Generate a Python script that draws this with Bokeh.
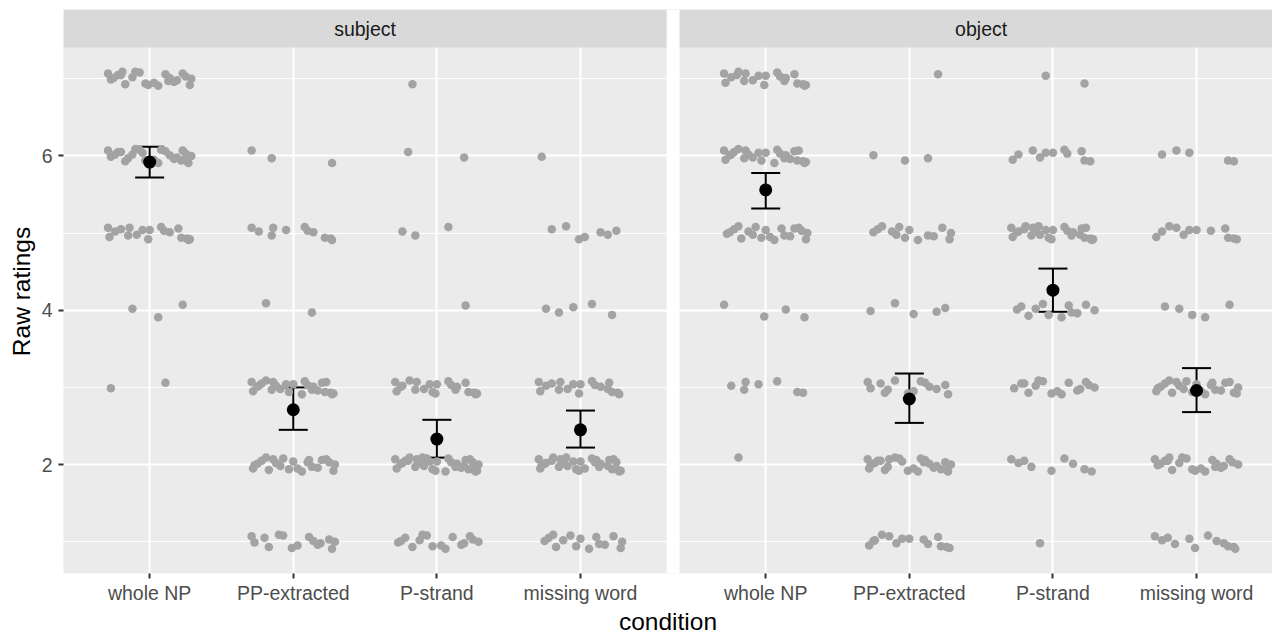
from bokeh.plotting import figure
from bokeh.models import (ColumnDataSource, FixedTicker, BoxAnnotation, Label,
                          Whisker, TeeHead, Range1d)
from bokeh.embed import file_html
from bokeh.resources import INLINE

# ---------------- data ----------------
facets = ["subject", "object"]
conditions = ["whole NP", "PP-extracted", "P-strand", "missing word"]
ratings = [1, 2, 3, 4, 5, 6, 7]

# number of raw ratings at each rating level 1..7, per condition
subject_counts = [
    [0, 0, 2, 3, 18, 26, 23],    # whole NP
    [15, 23, 25, 2, 11, 3, 0],   # PP-extracted
    [16, 32, 21, 1, 3, 2, 1],    # P-strand
    [15, 30, 18, 5, 7, 1, 0],    # missing word
]
object_counts = [
    [0, 1, 7, 4, 20, 25, 20],    # whole NP
    [14, 26, 14, 5, 14, 3, 1],   # PP-extracted
    [1, 9, 16, 12, 26, 11, 2],   # P-strand
    [12, 22, 23, 5, 12, 5, 0],   # missing word
]

subject_mean = [5.92, 2.71, 2.33, 2.45]
subject_lo = [5.72, 2.45, 2.09, 2.22]
subject_hi = [6.12, 3.00, 2.58, 2.70]

object_mean = [5.56, 2.85, 4.26, 2.96]
object_lo = [5.32, 2.54, 3.98, 2.68]
object_hi = [5.78, 3.18, 4.54, 3.25]

# hand-made jitter pattern (category units / rating units)
JIT_DX = [-0.05, 0.22, -0.24, 0.08, -0.15, 0.27, -0.29, 0.14, -0.01, -0.20,
          0.19, -0.10, 0.25, 0.03, -0.27, 0.11, -0.17, 0.29, -0.07, 0.17,
          -0.22, 0.06, -0.12, 0.23, -0.03, -0.25, 0.13, -0.19, 0.28, 0.00,
          -0.09, 0.20, -0.28, 0.10, -0.14, 0.26]
JIT_DY = [0.04, -0.06, 0.02, 0.08, -0.03, -0.09, 0.07, 0.01, -0.08, 0.05,
          -0.02, 0.09, 0.03, -0.05, -0.01, 0.06, -0.07, 0.00, 0.08, -0.04,
          0.05, -0.09, 0.02, 0.07, -0.06, 0.01, -0.03, 0.09, -0.08, 0.04,
          -0.02, 0.06, -0.05, 0.03, 0.07, -0.07]

# ---------------- layout constants ----------------
PANEL_OFFSET = [0.0, 4.29]     # second facet shifted right (includes panel gap)
PANEL_LEFT = [0.4, 4.69]
PANEL_RIGHT = [4.6, 8.89]
Y_PANEL_TOP = 7.404
Y_STRIP_TOP = 7.898
FONT = "Liberation Sans"

# ---------------- build point sources ----------------
px, py = [], []
for pi, counts in enumerate([subject_counts, object_counts]):
    for ci, cnt in enumerate(counts):
        for ri, n in enumerate(cnt):
            start = (pi * 4 + ci) * 5 + ri * 7
            for k in range(n):
                j = (start + k) % len(JIT_DX)
                px.append(PANEL_OFFSET[pi] + ci + 1 + JIT_DX[j])
                py.append(ratings[ri] + JIT_DY[j])
pts = ColumnDataSource(dict(x=px, y=py))

mx, my, mlo, mhi = [], [], [], []
for pi, (m, lo, hi) in enumerate([(subject_mean, subject_lo, subject_hi),
                                  (object_mean, object_lo, object_hi)]):
    for ci in range(len(conditions)):
        mx.append(PANEL_OFFSET[pi] + ci + 1)
        my.append(m[ci])
        mlo.append(lo[ci])
        mhi.append(hi[ci])
means = ColumnDataSource(dict(x=mx, y=my, lo=mlo, hi=mhi))

tick_pos = [PANEL_OFFSET[pi] + ci + 1 for pi in range(2) for ci in range(len(conditions))]
tick_lab = {PANEL_OFFSET[pi] + ci + 1: conditions[ci] for pi in range(2) for ci in range(len(conditions))}

# ---------------- figure ----------------
p = figure(frame_width=1209, frame_height=564,
           x_range=Range1d(0.4, 8.819), y_range=Range1d(0.588, Y_STRIP_TOP),
           output_backend="svg", toolbar_location=None,
           min_border_left=63, min_border_right=0, min_border_top=9, min_border_bottom=56,
           background_fill_color="#EBEBEB", border_fill_color="white",
           outline_line_color=None)

# grids
p.xgrid.ticker = FixedTicker(ticks=tick_pos)
p.xgrid.grid_line_color = "white"
p.xgrid.grid_line_width = 2
yt = FixedTicker(ticks=[2, 4, 6], minor_ticks=[1, 3, 5, 7])
p.ygrid.ticker = yt
p.ygrid.grid_line_color = "white"
p.ygrid.grid_line_width = 2
p.ygrid.minor_grid_line_color = "white"
p.ygrid.minor_grid_line_width = 1

# axes
p.xaxis.ticker = FixedTicker(ticks=tick_pos)
p.xaxis.major_label_overrides = tick_lab
p.yaxis.ticker = yt
for ax in (p.xaxis[0], p.yaxis[0]):
    ax.axis_line_color = None
    ax.major_tick_in = 0
    ax.major_tick_out = 5
    ax.major_tick_line_color = "#333333"
    ax.major_tick_line_width = 2
    ax.minor_tick_in = 0
    ax.minor_tick_out = 0
    ax.major_label_text_font = FONT
    ax.major_label_text_font_size = "19.5px"
    ax.major_label_text_color = "#4D4D4D"
    ax.axis_label_text_font = FONT
    ax.axis_label_text_font_size = "24.5px"
    ax.axis_label_text_font_style = "normal"
    ax.axis_label_text_color = "black"
p.xaxis.axis_label = "condition"
p.xaxis.major_label_standoff = 3
p.xaxis.axis_label_standoff = 1
p.yaxis.axis_label = "Raw ratings"
p.yaxis.major_label_standoff = 6
p.yaxis.axis_label_standoff = 4

# jittered raw ratings
p.scatter("x", "y", source=pts, size=8.5, fill_color="#A3A3A3", line_color=None)

# means
p.scatter("x", "y", source=means, size=13, fill_color="black", line_color=None)
p.add_layout(Whisker(source=means, base="x", lower="lo", upper="hi",
                     line_color="black", line_width=2,
                     upper_head=TeeHead(size=29, line_color="black", line_width=2),
                     lower_head=TeeHead(size=29, line_color="black", line_width=2)))

# facet strips and panel gap
p.add_layout(BoxAnnotation(bottom=Y_PANEL_TOP, fill_color="#D9D9D9", fill_alpha=1,
                           line_color=None))
p.add_layout(BoxAnnotation(left=PANEL_RIGHT[0], right=PANEL_LEFT[1], fill_color="white",
                           fill_alpha=1, line_color=None))
for pi, name in enumerate(facets):
    p.add_layout(Label(x=(PANEL_LEFT[pi] + PANEL_RIGHT[pi]) / 2,
                       y=(Y_PANEL_TOP + Y_STRIP_TOP) / 2,
                       text=name, text_align="center", text_baseline="middle",
                       text_font=FONT, text_font_size="19.5px", text_color="#1A1A1A"))

open("out.html", "w").write(file_html(p, INLINE))
